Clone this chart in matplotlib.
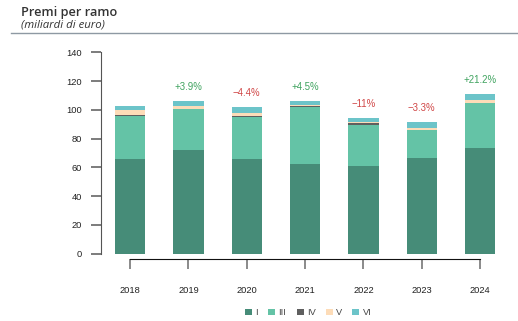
import matplotlib.pyplot as plt
from matplotlib.patches import Patch
from matplotlib.lines import Line2D
import numpy as np

plt.rcParams['font.family'] = ['Liberation Sans', 'DejaVu Sans']

anni = ['2018', '2019', '2020', '2021', '2022', '2023', '2024']
ramo_I = [65.8, 72.1, 65.8, 62.4, 61.0, 66.5, 73.5]
ramo_III = [29.9, 28.5, 29.4, 39.6, 28.7, 19.4, 31.2]
ramo_IV = [0.7, 0.1, 0.7, 0.9, 0.9, 0.1, 0.1]
ramo_V = [3.5, 2.0, 2.1, 0.7, 0.7, 1.4, 2.0]
ramo_VI = [2.8, 3.4, 4.0, 2.5, 3.0, 4.2, 4.2]
variazioni = [None, '+3.9%', '\u22124.4%', '+4.5%', '\u221211%', '\u22123.3%', '+21.2%']

serie = [('I', ramo_I, '#468c78'),
         ('III', ramo_III, '#64c3a6'),
         ('IV', ramo_IV, '#5f5f5f'),
         ('V', ramo_V, '#fddcb8'),
         ('VI', ramo_VI, '#6cc4c9')]

fig = plt.figure(figsize=(5.18, 3.21), dpi=100)
ax = fig.add_axes([0.195, 0.21, 0.788, 0.627])

x = np.arange(len(anni))
base = np.zeros(len(anni))
for nome, valori, colore in serie:
    ax.bar(x, valori, width=0.52, bottom=base, color=colore, linewidth=0)
    base += np.array(valori)

# variazione percentuale sopra ogni colonna
for i, testo in enumerate(variazioni):
    if testo is None:
        continue
    col = '#3fa35f' if testo.startswith('+') else '#d04545'
    ax.annotate(testo, (x[i], base[i]), xytext=(0, 10), textcoords='offset points',
                ha='center', va='center', fontsize=6.9, color=col)

ax.set_xlim(-0.5, 6.5)
ax.set_ylim(0, 140)
ax.set_yticks(np.arange(0, 141, 20))
ax.set_xticks(x)
ax.set_xticklabels(anni)

for s in ['top', 'right']:
    ax.spines[s].set_visible(False)
ax.spines['left'].set_bounds(0, 140)
ax.spines['left'].set_color('#555555')
ax.spines['bottom'].set_position(('outward', 4))
ax.spines['bottom'].set_bounds(0, 6)
ax.spines['bottom'].set_color('#111111')
ax.tick_params(axis='y', length=7, width=1.2, color='#666666', pad=6.5,
               labelsize=6.7, labelcolor='#222222')
ax.tick_params(axis='x', length=7, width=1.2, color='#777777', pad=12,
               labelsize=6.7, labelcolor='#222222')

fig.text(0.041, 0.961, 'Premi per ramo', fontsize=9.2, fontweight='semibold',
         family=['Open Sans', 'DejaVu Sans'], color='#333333', va='center')
fig.text(0.041, 0.922, '(miliardi di euro)', fontsize=8.2, style='italic',
         family=['Open Sans', 'DejaVu Sans'], color='#333333', va='center')
fig.add_artist(Line2D([0.021, 1.0], [0.896, 0.896], transform=fig.transFigure,
                      color='#8e99a3', linewidth=1.0))

handles = [Patch(facecolor=c, edgecolor='none', label=n) for n, _, c in serie]
fig.legend(handles=handles, loc='center', bbox_to_anchor=(0.595, 0.025), ncol=5,
           frameon=False, fontsize=6.7, handlelength=0.75, handleheight=0.6,
           handletextpad=0.35, columnspacing=1.1, labelcolor='#444444')

fig.savefig('out.png', dpi=100)
